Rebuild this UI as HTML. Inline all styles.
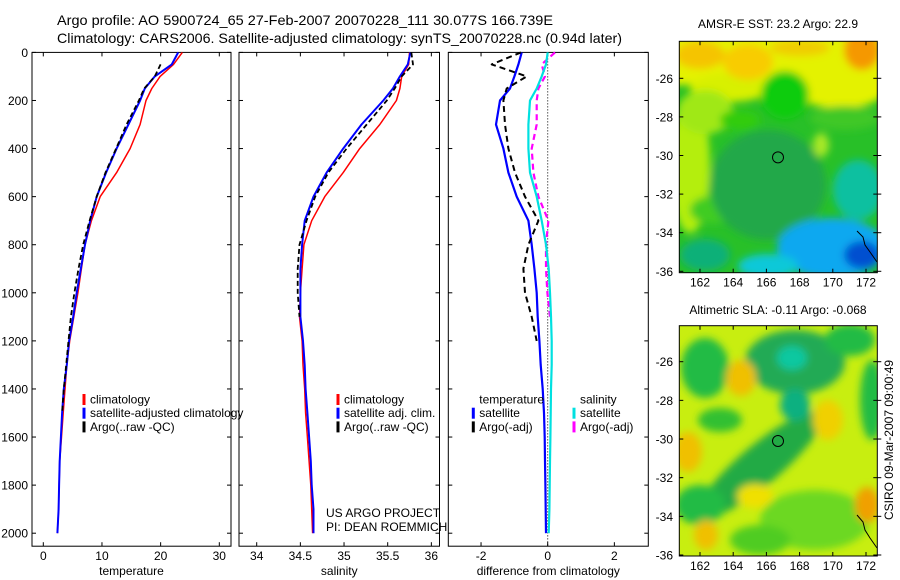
<!DOCTYPE html>
<html><head><meta charset="utf-8">
<style>
html,body{margin:0;padding:0;background:#fff;}
svg{display:block;font-family:"Liberation Sans",sans-serif;}
text{fill:#000;}
</style></head>
<body>
<svg id="fig" width="900" height="580" viewBox="0 0 900 580">
<defs>
<filter id="blur" x="-20%" y="-20%" width="140%" height="140%"><feGaussianBlur stdDeviation="4"/></filter>
<clipPath id="clipM1"><rect x="679.3" y="41.3" width="198" height="231.4"/></clipPath>
<clipPath id="clipM2"><rect x="679.3" y="325.7" width="198" height="230.3"/></clipPath>
</defs>
<rect x="0" y="0" width="900" height="580" fill="#fff"/>
<text x="57" y="25" font-size="14" textLength="496" lengthAdjust="spacingAndGlyphs">Argo profile: AO 5900724_65 27-Feb-2007 20070228_111 30.077S 166.739E</text>
<text x="57" y="43" font-size="14" textLength="565" lengthAdjust="spacingAndGlyphs">Climatology: CARS2006. Satellite-adjusted climatology: synTS_20070228.nc (0.94d later)</text>

<g id="p1"></g>
<g id="p2"></g>
<g id="p3"></g>

<!-- Map 1 -->
<g>
<text x="778" y="28" font-size="12" text-anchor="middle">AMSR-E SST: 23.2 Argo: 22.9</text>
<g clip-path="url(#clipM1)">
<rect x="679.3" y="41.3" width="198" height="231.4" fill="#28c028"/>
<g filter="url(#blur)">
<rect x="670" y="35" width="215" height="50" fill="#e4f200"/>
<ellipse cx="840" cy="90" rx="45" ry="18" fill="#e4f200"/>
<ellipse cx="730" cy="88" rx="40" ry="14" fill="#d8f000"/>
<ellipse cx="700" cy="55" rx="25" ry="14" fill="#f5c400"/>
<ellipse cx="748" cy="62" rx="25" ry="18" fill="#f8cc00"/>
<ellipse cx="800" cy="48" rx="30" ry="8" fill="#f0cc00"/>
<ellipse cx="862" cy="50" rx="18" ry="20" fill="#f59800"/>
<ellipse cx="785" cy="95" rx="24" ry="24" fill="#10cc10"/>
<ellipse cx="690" cy="165" rx="20" ry="68" fill="#b4ee10"/>
<ellipse cx="705" cy="112" rx="28" ry="22" fill="#a0e818"/>
<ellipse cx="740" cy="120" rx="20" ry="10" fill="#30cc10"/>
<ellipse cx="712" cy="210" rx="22" ry="14" fill="#40cc20"/>
<ellipse cx="845" cy="118" rx="35" ry="12" fill="#40c828"/>
<ellipse cx="768" cy="185" rx="58" ry="55" fill="#20a848"/>
<ellipse cx="821" cy="145" rx="8" ry="12" fill="#a8e828"/>
<ellipse cx="858" cy="190" rx="25" ry="30" fill="#10c0a0"/>
<ellipse cx="832" cy="248" rx="55" ry="30" fill="#10a8f0"/>
<ellipse cx="862" cy="255" rx="18" ry="14" fill="#0050d0"/>
<ellipse cx="768" cy="266" rx="30" ry="12" fill="#10c8d8"/>
<ellipse cx="705" cy="255" rx="25" ry="16" fill="#10b078"/>
</g>
<path d="M857,231 L863,237 L865,245 L870,252 L877,262" stroke="#000" fill="none" stroke-width="1"/>
</g>
<rect x="679.3" y="41.3" width="198" height="231.4" fill="none" stroke="#000" stroke-width="1"/>
<circle cx="778" cy="157.4" r="5.5" fill="none" stroke="#000" stroke-width="1"/>
<g id="m1ticks"></g>
</g>

<!-- Map 2 -->
<g>
<text x="778" y="314" font-size="12" text-anchor="middle">Altimetric SLA: -0.11 Argo: -0.068</text>
<g clip-path="url(#clipM2)">
<rect x="679.3" y="325.7" width="198" height="230.3" fill="#c8ee10"/>
<g filter="url(#blur)">
<ellipse cx="705" cy="368" rx="24" ry="30" fill="#22bb44"/>
<ellipse cx="720" cy="420" rx="22" ry="12" fill="#30c030"/>
<ellipse cx="795" cy="362" rx="50" ry="32" fill="#22aa55"/>
<ellipse cx="792" cy="358" rx="15" ry="12" fill="#10c8a0"/>
<ellipse cx="850" cy="340" rx="25" ry="16" fill="#22bb44"/>
<ellipse cx="760" cy="465" rx="80" ry="20" fill="#22aa44" transform="rotate(-40 760 465)"/>
<ellipse cx="795" cy="405" rx="15" ry="16" fill="#10b080"/>
<ellipse cx="700" cy="505" rx="25" ry="20" fill="#22bb44"/>
<ellipse cx="872" cy="400" rx="12" ry="40" fill="#22bb44"/>
<ellipse cx="815" cy="520" rx="55" ry="30" fill="#6cd820"/>
<ellipse cx="760" cy="540" rx="30" ry="15" fill="#50cc20"/>
<ellipse cx="741" cy="378" rx="15" ry="18" fill="#f0c000"/>
<ellipse cx="688" cy="452" rx="14" ry="20" fill="#f0c000"/>
<ellipse cx="706" cy="535" rx="12" ry="15" fill="#f0c000"/>
<ellipse cx="828" cy="420" rx="15" ry="20" fill="#f0d000"/>
<ellipse cx="867" cy="505" rx="12" ry="18" fill="#f0a000"/>
<ellipse cx="755" cy="496" rx="18" ry="12" fill="#f0e000"/>
</g>
<path d="M857,515 L863,522 L865,530 L870,538 L877,548" stroke="#000" fill="none" stroke-width="1"/>
</g>
<rect x="679.3" y="325.7" width="198" height="230.3" fill="none" stroke="#000" stroke-width="1"/>
<circle cx="778" cy="441" r="5.5" fill="none" stroke="#000" stroke-width="1"/>
<g id="m2ticks"></g>
</g>
<text transform="translate(893,440) rotate(-90)" font-size="12" text-anchor="middle">CSIRO 09-Mar-2007 09:00:49</text>
</svg>
<script>
// ---- data ----
const depths = [0,50,100,150,200,300,400,500,600,700,800,900,1000,1100,1200,1300,1400,1500,1600,1700,1800,1900,2000];
const tempClim = [23.7,22.2,19.9,18.5,17.5,16.5,14.8,12.5,9.7,8.2,7.1,6.5,5.9,5.2,4.5,4.0,3.7,3.4,3.1,2.8,2.7,2.6,2.4];
const tempSat = [23.0,21.9,19.0,17.3,16.5,14.5,12.5,10.7,9.1,8.0,7.1,6.4,5.7,5.1,4.4,4.0,3.5,3.2,3.0,2.8,2.7,2.6,2.4];
const tempArgo = [null,20.0,19.0,17.2,16.3,14.2,12.4,10.6,9.1,7.9,6.8,6.0,5.3,4.7,4.3,3.9,3.5,3.2,null,null,null,null,null];
const salClim = [35.75,35.74,35.66,35.64,35.60,35.41,35.18,34.99,34.78,34.63,34.54,34.52,34.50,34.49,34.52,34.53,34.55,34.56,34.58,34.60,34.62,34.63,34.64];
const salSat = [35.76,35.73,35.64,35.56,35.45,35.20,34.99,34.80,34.65,34.55,34.52,34.50,34.50,34.50,34.53,34.55,34.56,34.58,34.60,34.62,34.63,34.65,34.65];
const salArgo = [35.77,35.79,35.66,35.58,35.49,35.26,35.03,34.82,34.67,34.57,34.49,34.47,34.47,34.49,null,null,null,null,null,null,null,null,null];
const diffTempSat = [-0.78,-0.88,-1.0,-1.13,-1.43,-1.55,-1.33,-1.18,-0.93,-0.58,-0.48,-0.40,-0.33,-0.30,-0.25,-0.21,-0.15,-0.11,-0.09,-0.08,-0.07,-0.06,-0.05];
const diffTempArgo = [-0.8,-1.68,-0.63,-1.23,-1.33,-1.28,-1.18,-0.98,-0.68,-0.28,-0.58,-0.73,-0.68,-0.48,-0.33,null,null,null,null,null,null,null,null];
const diffSalSat = [0,-0.05,-0.18,-0.33,-0.53,-0.58,-0.58,-0.53,-0.33,-0.18,-0.05,0.03,0.07,0.10,0.12,0.12,0.10,0.09,0.08,0.07,0.06,0.05,0.03];
const diffSalArgo = [0.22,-0.18,-0.08,-0.28,-0.33,-0.33,-0.48,-0.43,-0.28,0.02,-0.05,-0.05,-0.01,0.07,null,null,null,null,null,null,null,null,null];
const depthTicks = [0,200,400,600,800,1000,1200,1400,1600,1800,2000];
const tempTicks = [0,10,20,30];
const salTicks = [34,34.5,35,35.5,36];
const salTickLabels = ["34","34.5","35","35.5","36"];
const diffTicks = [-2,0,2];
const lonTicks = [162,164,166,168,170,172];
const latTicks = [-26,-28,-30,-32,-34,-36];

// ---- scales ----
const NS='http://www.w3.org/2000/svg';
const yD = d => 52.4 + d*0.2404;
const xT = t => 43.3 + t*5.867;
const xS = s => 256.7 + (s-34)*87.33;
const xF = v => 547.7 + v*33.33;
const lonX = lon => 700 + (lon-162)*16.6;
const latY1 = lat => 78.3 + (-26-lat)*19.3;
const latY2 = lat => 361.7 + (-26-lat)*19.33;
const TOP=52.4, BOT=546.2;

function mk(tag, attrs, parent){const e=document.createElementNS(NS,tag);for(const k in attrs)e.setAttribute(k,attrs[k]);parent.appendChild(e);return e;}

function panel(g, x0, x1, xs, ticks, tickLabels, title, withY){
  const box = mk('rect',{x:x0,y:TOP,width:x1-x0,height:BOT-TOP,fill:'none',stroke:'#000','stroke-width':1},g);
  
  
  depthTicks.forEach(d=>{
    const y=yD(d);
    mk('line',{x1:x0,x2:x0+4,y1:y,y2:y,stroke:'#000'},g);
    mk('line',{x1:x1-4,x2:x1,y1:y,y2:y,stroke:'#000'},g);
    if(withY){
      const t=mk('text',{x:28,y:y+4.5,'font-size':12,'text-anchor':'end'},g);
      t.textContent=d;
      
      
    }
  });
  ticks.forEach((v,i)=>{
    const x=xs(v);
    mk('line',{x1:x,x2:x,y1:BOT,y2:BOT-4,stroke:'#000'},g);
    mk('line',{x1:x,x2:x,y1:TOP,y2:TOP+4,stroke:'#000'},g);
    const t=mk('text',{x:x,y:560,'font-size':12,'text-anchor':'middle'},g);
    t.textContent=tickLabels[i];
    
    
  });
  const tt=mk('text',{x:(x0+x1)/2,y:575,'font-size':12,'text-anchor':'middle'},g);
  tt.textContent=title;
  
  
}

function series(g, vals, xs, color, dash, w, name){
  let d='', pen=false;
  vals.forEach((v,i)=>{
    if(v===null){pen=false;return;}
    d += (pen?'L':'M') + xs(v).toFixed(1)+','+yD(depths[i]).toFixed(1)+' ';
    pen=true;
  });
  const p=mk('path',{d:d,fill:'none',stroke:color,'stroke-width':w,'stroke-linejoin':'round'},g);
  if(dash) p.setAttribute('stroke-dasharray',dash);
  
  
}

function legend(g, x, entries){
  entries.forEach((e,i)=>{
    const y=399+i*13.7;
    if(e.color){
      const l=mk('line',{x1:x,x2:x,y1:y-5,y2:y+6,stroke:e.color,'stroke-width':3},g);
      
      
    }
    const t=mk('text',{x:x+6,y:y+4.5,'font-size':12},g);
    t.textContent=e.label;
    
    
  });
}

const p1=document.getElementById('p1'), p2=document.getElementById('p2'), p3=document.getElementById('p3');
panel(p1,32,231,xT,tempTicks,tempTicks.map(String),'temperature',true);
series(p1,tempClim,xT,'#ff0000',null,1.5,'temp-climatology-line');
series(p1,tempSat,xT,'#0000ff',null,2,'temp-satellite-line');
series(p1,tempArgo,xT,'#000000','5,3',1.8,'temp-argo-line');
legend(p1,84,[{color:'#ff0000',label:'climatology'},{color:'#0000ff',label:'satellite-adjusted climatology'},{color:'#000',label:'Argo(..raw -QC)'}]);

panel(p2,239,439.5,xS,salTicks,salTickLabels,'salinity',false);
series(p2,salClim,xS,'#ff0000',null,1.5,'sal-climatology-line');
series(p2,salSat,xS,'#0000ff',null,2,'sal-satellite-line');
series(p2,salArgo,xS,'#000000','5,3',1.8,'sal-argo-line');
legend(p2,338,[{color:'#ff0000',label:'climatology'},{color:'#0000ff',label:'satellite adj. clim.'},{color:'#000',label:'Argo(..raw -QC)'}]);
const us=mk('text',{x:326,y:517,'font-size':12},p2); us.textContent='US ARGO PROJECT';


const pi=mk('text',{x:326,y:531,'font-size':12},p2); pi.textContent='PI: DEAN ROEMMICH';



panel(p3,448.3,648.3,xF,diffTicks,diffTicks.map(String),'difference from climatology',false);
const zl=mk('line',{x1:xF(0),x2:xF(0),y1:TOP,y2:BOT,stroke:'#000','stroke-dasharray':'1,2','stroke-width':1},p3);


series(p3,diffSalArgo,xF,'#ff00ff','6,4',2.2,'diff-sal-argo-line');
series(p3,diffSalSat,xF,'#00e0e0',null,2.2,'diff-sal-satellite-line');
series(p3,diffTempSat,xF,'#0000ff',null,2.2,'diff-temp-satellite-line');
series(p3,diffTempArgo,xF,'#000000','6,4',2,'diff-temp-argo-line');
legend(p3,473.3,[{color:null,label:'temperature'},{color:'#0000ff',label:'satellite'},{color:'#000',label:'Argo(-adj)'}]);
legend(p3,574,[{color:null,label:'salinity'},{color:'#00e0e0',label:'satellite'},{color:'#ff00ff',label:'Argo(-adj)'}]);

function mapTicks(gid, top, bot, latY){
  const g=document.getElementById(gid);
  lonTicks.forEach(l=>{
    const x=lonX(l);
    mk('line',{x1:x,x2:x,y1:top,y2:top+4,stroke:'#000'},g);
    mk('line',{x1:x,x2:x,y1:bot,y2:bot-4,stroke:'#000'},g);
    const t=mk('text',{x:x,y:bot+14,'font-size':12,'text-anchor':'middle'},g);
    t.textContent=l;
    
    
  });
  latTicks.forEach(l=>{
    const y=latY(l);
    mk('line',{x1:679.3,x2:683.3,y1:y,y2:y,stroke:'#000'},g);
    mk('line',{x1:873.3,x2:881.3,y1:y,y2:y,stroke:'#000'},g);
    const t=mk('text',{x:673,y:y+4.5,'font-size':12,'text-anchor':'end'},g);
    t.textContent=l;
    
    
  });
}
mapTicks('m1ticks',41.3,272.7,latY1);
mapTicks('m2ticks',325.7,556,latY2);
</script>
</body></html>
